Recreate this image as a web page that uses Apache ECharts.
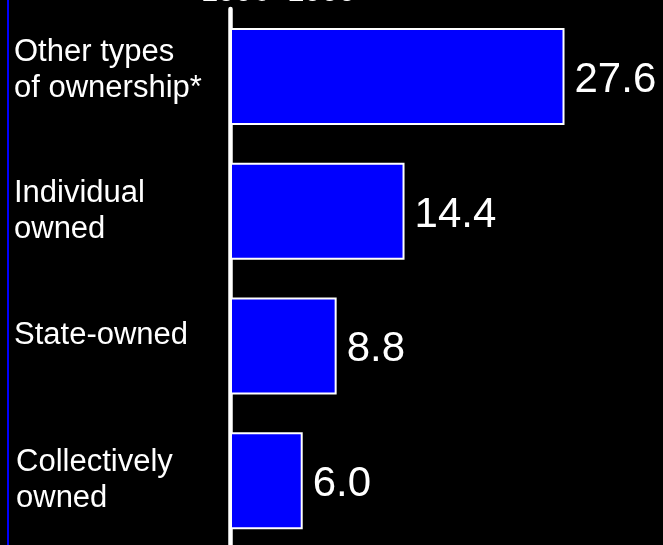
<!DOCTYPE html>
<html>
<head>
<meta charset="utf-8">
<script src="https://cdn.jsdelivr.net/npm/echarts@6/dist/echarts.min.js"></script>
<style>
html,body{margin:0;padding:0;background:#000;}
#chart{width:663px;height:545px;}
</style>
</head>
<body>
<div id="chart"></div>
<script>
const categories = ["Collectively\nowned", "State-owned", "Individual\nowned", "Other types\nof ownership*"];
const values = [6.0, 8.8, 14.4, 27.6];
const titleText = "1996\u20131999";
const labelLift = [0, 20, 0, 12];
const labelIndent = [2, 0, 0, 0];

const richStyles = {};
categories.forEach((c, i) => {
  richStyles['c' + i] = {
    color: '#ffffff',
    fontFamily: 'Liberation Sans, Arial',
    fontSize: 31,
    lineHeight: 36,
    align: 'left',
    padding: [0, 0, labelLift[i], labelIndent[i]]
  };
});

const chart = echarts.init(document.getElementById('chart'));
chart.setOption({
  backgroundColor: '#000000',
  animation: false,
  title: {
    text: titleText,
    left: 196,
    top: -28,
    textStyle: {color: '#ffffff', fontFamily: 'Liberation Sans, Arial', fontSize: 31, fontWeight: 'normal'}
  },
  graphic: [{
    type: 'rect',
    shape: {x: 7, y: 0, width: 2, height: 545},
    style: {fill: '#0000ff'}
  }],
  grid: {left: 230, right: 69.4, top: 9, height: 539, containLabel: false, outerBoundsMode: 'none'},
  xAxis: {
    type: 'value', min: 0, max: 30, show: false
  },
  yAxis: {
    type: 'category',
    data: categories,
    offset: 1.5,
    axisLine: {show: true, lineStyle: {color: '#ffffff', width: 4.5, cap: 'round'}},
    axisTick: {show: false},
    splitLine: {show: false},
    axisLabel: {
      align: 'left',
      margin: 214.5,
      color: '#ffffff',
      fontFamily: 'Liberation Sans, Arial',
      fontSize: 31,
      lineHeight: 36,
      formatter: (v, i) => v.split('\n').map(s => '{c' + i + '|' + s + '}').join('\n'),
      rich: richStyles
    }
  },
  series: [{
    type: 'bar',
    data: values,
    barWidth: 97,
    itemStyle: {color: '#0000ff', borderColor: '#ffffff', borderWidth: 2},
    label: {
      show: true,
      position: 'right',
      distance: 10,
      offset: [0, 4],
      color: '#ffffff',
      fontFamily: 'Liberation Sans, Arial',
      fontSize: 42,
      formatter: p => p.value.toFixed(1)
    }
  }]
});
</script>
</body>
</html>
